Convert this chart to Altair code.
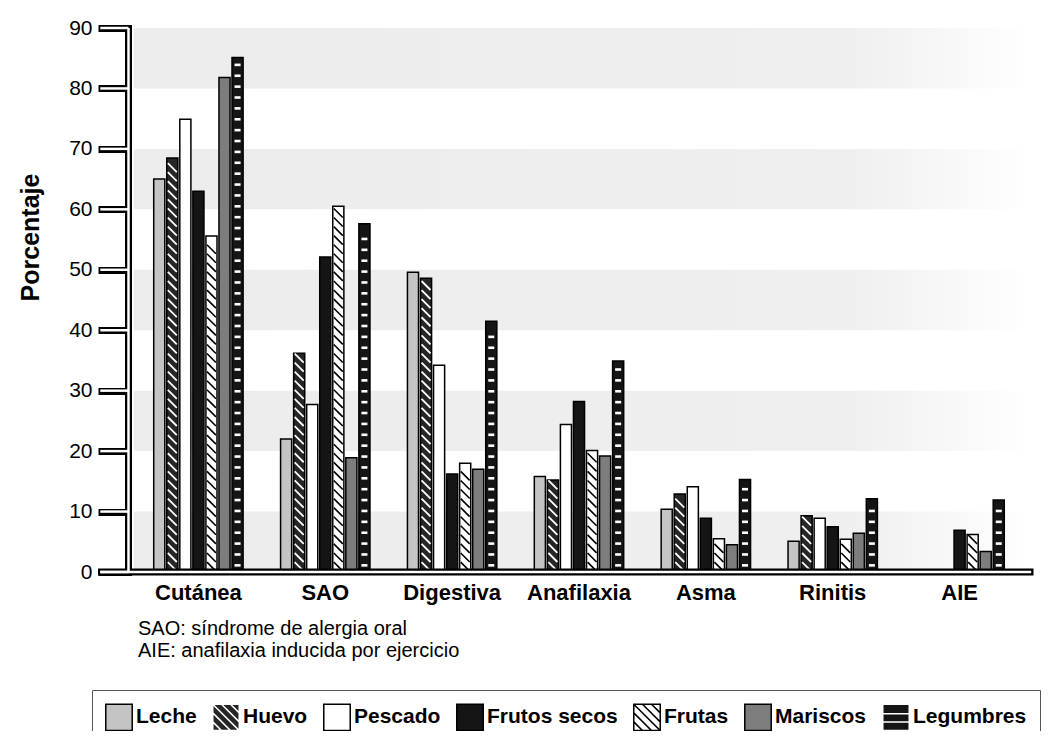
import altair as alt
import pandas as pd

categories = ["Cutánea", "SAO", "Digestiva", "Anafilaxia", "Asma", "Rinitis", "AIE"]
series = ["Leche", "Huevo", "Pescado", "Frutos secos", "Frutas", "Mariscos", "Legumbres"]

leche = [65.0, 22.0, 49.6, 15.8, 10.4, 5.1, 0.0]
huevo = [68.5, 36.2, 48.6, 15.2, 12.9, 9.3, 0.0]
pescado = [74.9, 27.7, 34.2, 24.4, 14.1, 8.9, 0.0]
frutos_secos = [63.0, 52.1, 16.2, 28.2, 8.9, 7.5, 6.9]
frutas = [55.6, 60.5, 18.0, 20.1, 5.5, 5.4, 6.2]
mariscos = [81.8, 18.9, 17.0, 19.2, 4.5, 6.4, 3.4]
legumbres = [85.1, 57.6, 41.5, 34.9, 15.3, 12.1, 11.9]

y_ticks = [0, 10, 20, 30, 40, 50, 60, 70, 80, 90]
footnotes = ["SAO: síndrome de alergia oral", "AIE: anafilaxia inducida por ejercicio"]

series_values = [leche, huevo, pescado, frutos_secos, frutas, mariscos, legumbres]
rows = []
for s, vals in zip(series, series_values):
    for c, v in zip(categories, vals):
        rows.append({"category": c, "series": s, "value": v})
df = pd.DataFrame(rows)
ticks_df = pd.DataFrame({"tick": y_ticks})
one_row = pd.DataFrame({"k": [0]})

FONT = "Liberation Sans, Arial, sans-serif"
WIDTH, HEIGHT = 902, 544

fills = ["#c4c4c4", "#262626", "#ffffff", "#151515", "#ffffff", "#7d7d7d", "#151515"]
legend_strokes = ["black", "white", "black", "black", "black", "black", "white"]
SQUARE = "M-1,-1H1V1H-1Z"
DIAG = " M-1,-0.34L0.34,1 M-1,0.34L-0.34,1 M-1,-1L1,1 M-0.34,-1L1,0.34 M0.34,-1L1,-0.34"
HORIZ = " M-1,-0.28H1 M-1,0.34H1"
legend_shapes = [SQUARE, SQUARE + DIAG, SQUARE, SQUARE, SQUARE + DIAG, SQUARE, SQUARE + HORIZ]

x_scale = alt.Scale(domain=categories, paddingInner=0.28, paddingOuter=0.195)
xo_scale = alt.Scale(domain=series, paddingInner=0.15, paddingOuter=0.075)
y_scale = alt.Scale(domain=[0, 90], nice=False)
fill_scale = alt.Scale(domain=series, range=fills)

x_axis = alt.Axis(title=None, domain=False, ticks=False, tickSize=0, labelAngle=0,
                  labelFont=FONT, labelFontSize=22, labelFontWeight="bold",
                  labelColor="black", labelPadding=10)
y_axis = alt.Axis(values=y_ticks, title="Porcentaje", grid=False,
                  domainColor="black", domainWidth=7, domainCap="square",
                  tickColor="black", tickWidth=7, tickSize=30,
                  labelFont=FONT, labelFontSize=21, labelColor="black", labelPadding=6,
                  titleFont=FONT, titleFontSize=25, titleFontWeight="bold", titleColor="black",
                  titleAngle=270, titleX=-98, titleY=209, titleAlign="center",
                  titleBaseline="middle")

leg = alt.Legend(title=None, orient="none", legendX=-36, legendY=662,
                 direction="horizontal", symbolSize=700, symbolStrokeWidth=1.5,
                 labelFont=FONT, labelFontSize=21, labelFontWeight="bold",
                 labelColor="black", labelOffset=3, columnPadding=12,
                 padding=13, strokeColor="#555555", labelLimit=300)

x_main = alt.X("category:N", scale=x_scale, axis=x_axis, title=None)
xo = alt.XOffset("series:N", scale=xo_scale)


def yq(field):
    return alt.Y(field, type="quantitative", scale=y_scale, axis=y_axis, title="Porcentaje")


bands = alt.Chart(ticks_df).transform_filter(
    "datum.tick % 20 == 0 && datum.tick < 90"
).transform_calculate(top="datum.tick + 10").mark_rect(
    color=alt.LinearGradient(
        gradient="linear", x1=0, x2=1, y1=0, y2=0,
        stops=[alt.GradientStop(color="#ececec", offset=0),
               alt.GradientStop(color="#efefef", offset=0.8),
               alt.GradientStop(color="#ffffff", offset=1)])
).encode(
    x=alt.value(6), x2=alt.value(WIDTH),
    y=yq("tick"), y2=alt.Y2("top:Q")
)

bars = alt.Chart(df).transform_filter("datum.value > 0").mark_bar(
    stroke="black", strokeWidth=1.5
).encode(
    x=x_main, xOffset=xo,
    y=yq("value"),
    fill=alt.Fill("series:N", scale=fill_scale, legend=leg),
)


def stripe_layer(name, start, step, shape, color, width, size):
    return alt.Chart(df).transform_filter(alt.datum.series == name).transform_calculate(
        stripe=f"sequence({start}, datum.value - {start * 0.8}, {step})"
    ).transform_flatten(["stripe"]).mark_point(
        shape=shape, filled=False, color=color, strokeWidth=width, size=size, opacity=1
    ).encode(
        x=x_main, xOffset=xo,
        y=yq("stripe"),
    )


huevo_stripes = stripe_layer("Huevo", 0.9, 1.5, "M-1,-1L1,1", "white", 1.8, 81)
frutas_stripes = stripe_layer("Frutas", 0.9, 1.5, "M-1,-1L1,1", "black", 1.6, 81)
legumbres_dashes = stripe_layer("Legumbres", 1.1, 1.8, "M-1,0L1,0", "white", 2.6, 36)

ticks_zero = ticks_df[ticks_df["tick"] == 0]
base_black = alt.Chart(ticks_zero).mark_rule(color="black", strokeWidth=7, strokeCap="square").encode(
    x=alt.value(-26.5), x2=alt.value(WIDTH), y=yq("tick")
)
base_white = alt.Chart(ticks_zero).mark_rule(color="white", strokeWidth=2.5).encode(
    x=alt.value(-27.7), x2=alt.value(WIDTH + 1.2), y=yq("tick")
)
ticks_white = alt.Chart(ticks_df).mark_rule(color="white", strokeWidth=2.5).encode(
    x=alt.value(-27.7), x2=alt.value(0.5), y=yq("tick")
)
yaxis_white = alt.Chart(ticks_df).transform_aggregate(
    lo="min(tick)", hi="max(tick)"
).mark_rule(color="white", strokeWidth=2.5).encode(
    x=alt.value(0.5), y=yq("lo"), y2=alt.Y2("hi:Q")
)

legend_layer = alt.Chart(df).transform_filter("false").mark_point(
    filled=True, opacity=1, strokeWidth=1.5
).encode(
    fill=alt.Fill("series:N", scale=fill_scale, legend=leg),
    shape=alt.Shape("series:N", scale=alt.Scale(domain=series, range=legend_shapes), legend=leg),
    stroke=alt.Stroke("series:N", scale=alt.Scale(domain=series, range=legend_strokes), legend=leg),
)

notes = alt.Chart(one_row).mark_text(
    text=footnotes, align="left", baseline="top", font=FONT, fontSize=20,
    lineHeight=22, color="black"
).encode(x=alt.value(10), y=alt.value(591))

chart = alt.layer(
    bands, bars, huevo_stripes, frutas_stripes, legumbres_dashes,
    base_black, base_white, yaxis_white, ticks_white, legend_layer, notes
).properties(
    width=WIDTH, height=HEIGHT,
    padding={"left": 120, "top": 20, "right": 11, "bottom": 159},
    autosize=alt.AutoSizeParams(type="none"),
).configure_view(stroke=None)

chart.save("out.html", embed_options={"renderer": "svg", "actions": False})
